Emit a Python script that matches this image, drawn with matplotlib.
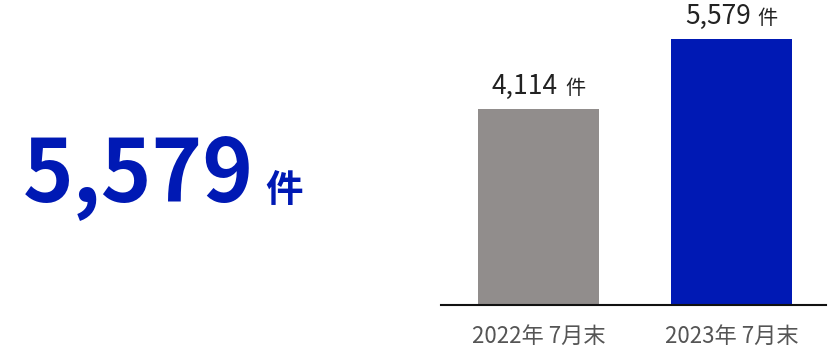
import numpy as np
import matplotlib
matplotlib.use('Agg')
import matplotlib.pyplot as plt

plt.rcParams['font.family'] = ['Noto Sans CJK JP', 'DejaVu Sans']

# データ
periods = ['2022年 7月末', '2023年 7月末']
counts = [4114, 5579]
labels = ['4,114', '5,579']
unit = '件'
headline = '5,579'

gray = '#918d8c'
blue = '#0019b4'

fig = plt.figure(figsize=(8.31, 3.51), dpi=100)
# 軸の位置 (px基準)
ax = fig.add_axes([441/831, (351-305)/351, 385/831, 305/351])

x = np.arange(len(counts))
ax.bar(x, counts, width=0.627, color=[gray, blue])
ax.set_xlim(-0.505, 1.49)
ax.set_ylim(0, 6397)

for i, v in enumerate(counts):
    ax.annotate(labels[i], (x[i], v), xytext=(14, 11), textcoords='offset points',
                ha='right', va='baseline', fontsize=19, color='#222222')
    ax.annotate(unit, (x[i], v), xytext=(19, 11), textcoords='offset points',
                ha='left', va='baseline', fontsize=14.5, color='#222222')

ax.set_xticks(x)
ax.set_xticklabels(periods, fontsize=16, color='#555555')
ax.tick_params(axis='x', length=0, pad=14)
ax.set_yticks([])
for s in ['top', 'right', 'left']:
    ax.spines[s].set_visible(False)
ax.spines['bottom'].set_linewidth(1.5)
ax.spines['bottom'].set_color('#111111')

# 左側の大きな数字
fig.text(23/831, (351-201)/351, headline, fontsize=62, fontweight='bold',
         color=blue, ha='left', va='baseline')
fig.text(265/831, (351-202)/351, unit, fontsize=27, fontweight='bold',
         color=blue, ha='left', va='baseline')

fig.savefig('out.png', dpi=100)
